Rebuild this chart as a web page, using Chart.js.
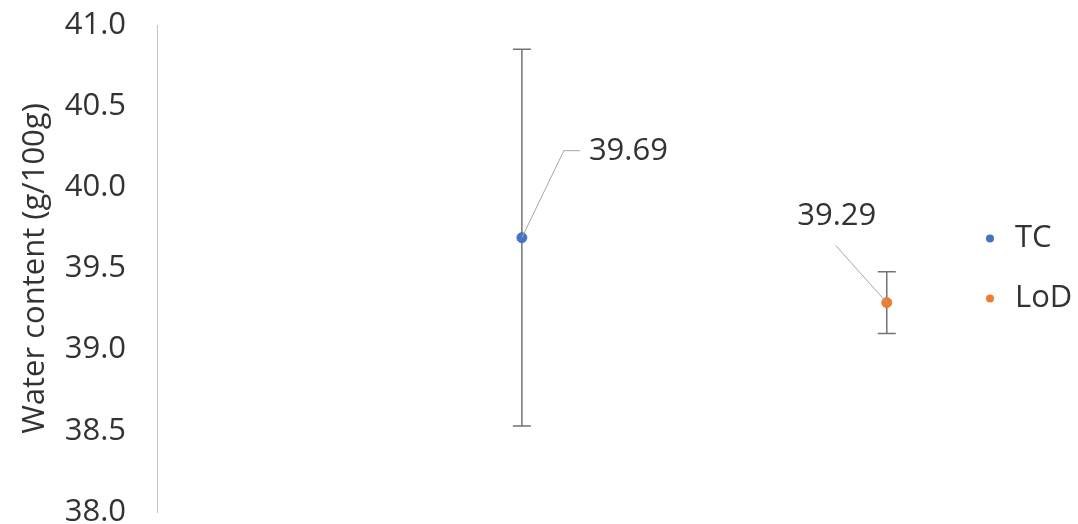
<!DOCTYPE html>
<html>
<head>
<meta charset="utf-8">
<title>Water content</title>
<script src="https://cdn.jsdelivr.net/npm/chart.js@4"></script>
<style>
  html, body { margin: 0; padding: 0; background: #fff; overflow: hidden; }
  #frame { width: 1078px; height: 524px; position: relative; overflow: hidden; }
  /* the y tick padding also pads the plot vertically, so the canvas is taller and lifted */
  #wrap { width: 1078px; height: 573px; position: absolute; left: 0; top: -18px; }
</style>
</head>
<body>
<div id="frame"><div id="wrap"><canvas id="chart"></canvas></div></div>
<script>
// groups and their x slots
const seriesNames = ['TC', 'LoD'];
const xSlots = [1, 2];
// mean water content (g/100g) and standard deviation
const means = [39.69, 39.29];
const deviations = [1.16, 0.19];
const colors = ['#4472C4', '#ED7D31'];

const yMin = 38.0;
const yMax = 41.0;
const yStep = 0.5;

const FONT = "'Open Sans', sans-serif";
const TEXT = '#333333';

// value label placement relative to its point (leader elbow, leader end, text anchor)
const labelStyle = [
  { elbow: [42, -87], end: [58, -87], text: [67, -86], align: 'left' },
  { elbow: [-51, -57], end: [-51, -57], text: [-50, -86], align: 'center' }
];

const errorBars = {
  id: 'errorBars',
  beforeDatasetsDraw(chart) {
    const { ctx } = chart;
    const y = chart.scales.y;
    ctx.save();
    ctx.strokeStyle = '#737373';
    ctx.lineWidth = 1.5;
    chart.data.datasets.forEach((ds, i) => {
      const pt = chart.getDatasetMeta(i).data[0];
      const hi = y.getPixelForValue(means[i] + deviations[i]);
      const lo = y.getPixelForValue(means[i] - deviations[i]);
      const cap = 9;
      ctx.beginPath();
      ctx.moveTo(pt.x, hi); ctx.lineTo(pt.x, lo);
      ctx.moveTo(pt.x - cap, hi); ctx.lineTo(pt.x + cap, hi);
      ctx.moveTo(pt.x - cap, lo); ctx.lineTo(pt.x + cap, lo);
      ctx.stroke();
    });
    ctx.restore();
  }
};

const valueLabels = {
  id: 'valueLabels',
  afterDatasetsDraw(chart) {
    const { ctx } = chart;
    ctx.save();
    chart.data.datasets.forEach((ds, i) => {
      const pt = chart.getDatasetMeta(i).data[0];
      const s = labelStyle[i];
      ctx.strokeStyle = '#a6a6a6';
      ctx.lineWidth = 1;
      ctx.beginPath();
      ctx.moveTo(pt.x, pt.y);
      ctx.lineTo(pt.x + s.elbow[0], pt.y + s.elbow[1]);
      ctx.lineTo(pt.x + s.end[0], pt.y + s.end[1]);
      ctx.stroke();
      ctx.fillStyle = TEXT;
      ctx.font = '31px ' + FONT;
      ctx.textAlign = s.align;
      ctx.textBaseline = 'middle';
      ctx.fillText(ds.data[0].y.toFixed(2), pt.x + s.text[0], pt.y + s.text[1]);
    });
    ctx.restore();
  }
};

// legend on the right, one row per series
const sideLegend = {
  id: 'sideLegend',
  afterDraw(chart) {
    const { ctx, chartArea } = chart;
    const mid = (chartArea.top + chartArea.bottom) / 2;
    const n = chart.data.datasets.length;
    ctx.save();
    chart.data.datasets.forEach((ds, i) => {
      const cy = mid + (i - (n - 1) / 2) * 60;
      ctx.fillStyle = ds.backgroundColor;
      ctx.beginPath();
      ctx.arc(990, cy, 4, 0, Math.PI * 2);
      ctx.fill();
      ctx.fillStyle = TEXT;
      ctx.font = '31px ' + FONT;
      ctx.textAlign = 'left';
      ctx.textBaseline = 'middle';
      ctx.fillText(ds.label, 1015, cy);
    });
    ctx.restore();
  }
};

const datasets = seriesNames.map((name, i) => ({
  label: name,
  data: [{ x: xSlots[i], y: means[i] }],
  backgroundColor: colors[i],
  borderColor: colors[i],
  pointRadius: 5,
  pointHoverRadius: 5,
  showLine: false
}));

new Chart(document.getElementById('chart'), {
  type: 'scatter',
  data: { datasets },
  options: {
    responsive: true,
    maintainAspectRatio: false,
    animation: false,
    layout: { padding: { left: 13, top: 0, right: 100, bottom: 0 } },
    plugins: {
      legend: { display: false },
      tooltip: { enabled: false }
    },
    scales: {
      x: { display: false, min: 0, max: 2.25 },
      y: {
        min: yMin,
        max: yMax,
        afterFit(scale) { scale.width = 144; },
        grid: { display: false, drawTicks: false },
        border: { display: true, color: '#c4c4c4', width: 1 },
        ticks: {
          stepSize: yStep,
          padding: 31,
          color: TEXT,
          font: { family: FONT, size: 31, lineHeight: '24px' },
          callback: v => Number(v).toFixed(1)
        },
        title: {
          display: true,
          text: 'Water content (g/100g)',
          color: TEXT,
          font: { family: FONT, size: 31, lineHeight: 1.2 },
          padding: { top: 4, bottom: 4 }
        }
      }
    }
  },
  plugins: [errorBars, valueLabels, sideLegend]
});
</script>
</body>
</html>
